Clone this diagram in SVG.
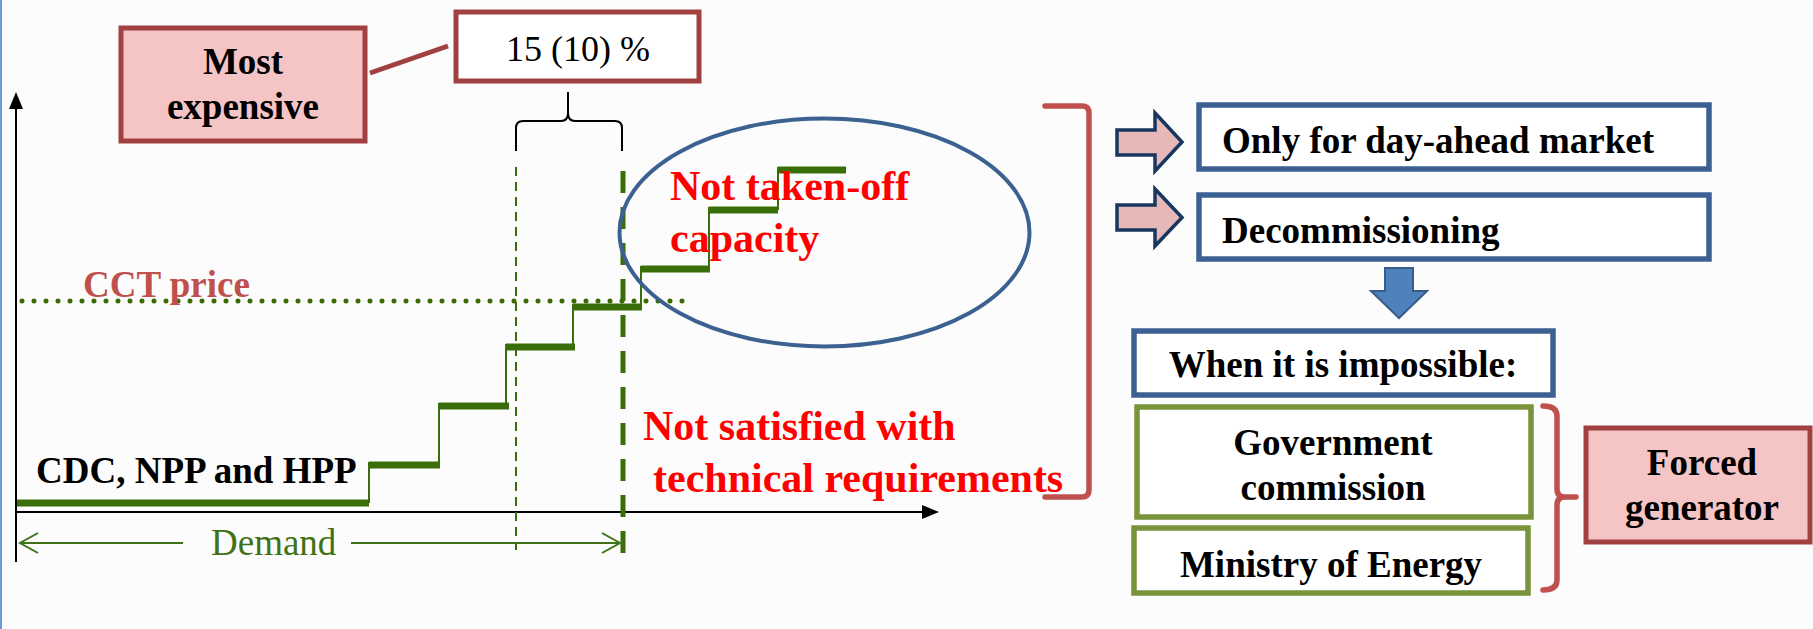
<svg xmlns="http://www.w3.org/2000/svg" width="1813" height="629" viewBox="0 0 1813 629">
<defs>
<style>
.t{font-family:"Liberation Serif","Times New Roman",serif;}
.b{font-weight:bold;font-size:37px;fill:#000;}
.red{font-weight:bold;font-size:42px;fill:#FF0000;}
.step{stroke:#3A6E0A;stroke-width:7;fill:none;}
.riser{stroke:#3A6E0A;stroke-width:2;fill:none;}
.bluebox{fill:#FFFFFF;stroke:#3C6092;stroke-width:5.5;}
.greenbox{fill:#FFFFFF;stroke:#77933C;stroke-width:5.5;}
.pinkbox{fill:#F5C5C6;stroke:#A04040;stroke-width:5;}
.pinkarrow{fill:#E6B9B8;stroke:#17375E;stroke-width:3.5;stroke-linejoin:miter;}
.bracket{fill:none;stroke:#C0504D;stroke-width:5.5;stroke-linecap:round;}
</style>
</defs>
<rect x="0" y="0" width="1813" height="629" fill="#FCFCFC"/>
<line x1="1" y1="0" x2="1" y2="629" stroke="#6A9AD8" stroke-width="2"/>

<g id="chart">
<line x1="16" y1="562" x2="16" y2="96" stroke="#000" stroke-width="2"/>
<path d="M16,92 L9,109 L23,109 z" fill="#000"/>
<line x1="16" y1="512" x2="925" y2="512" stroke="#000" stroke-width="2"/>
<path d="M939,512 L922,505 L922,519 z" fill="#000"/>
<g id="steps">
<line class="step" x1="17" y1="503" x2="369" y2="503"/>
<line class="riser" x1="369" y1="503" x2="369" y2="462"/>
<line class="step" x1="369" y1="465" x2="440" y2="465"/>
<line class="riser" x1="439" y1="465" x2="439" y2="403"/>
<line class="step" x1="439" y1="406" x2="509" y2="406"/>
<line class="riser" x1="506" y1="406" x2="506" y2="344"/>
<line class="step" x1="506" y1="347" x2="575" y2="347"/>
<line class="riser" x1="573" y1="347" x2="573" y2="304"/>
<line class="step" x1="573" y1="307" x2="642" y2="307"/>
<line class="riser" x1="641" y1="307" x2="641" y2="266"/>
<line class="step" x1="641" y1="269" x2="710" y2="269"/>
<line class="riser" x1="709" y1="269" x2="709" y2="207"/>
<line class="step" x1="709" y1="210" x2="778" y2="210"/>
<line class="riser" x1="778" y1="210" x2="778" y2="167"/>
<line class="step" x1="778" y1="170" x2="846" y2="170"/>
</g>
<line x1="22" y1="301" x2="686" y2="301" stroke="#3A6B00" stroke-width="5" stroke-linecap="round" stroke-dasharray="0 12"/>
<line x1="516" y1="167" x2="516" y2="550" stroke="#3A6E0A" stroke-width="2" stroke-dasharray="9 6"/>
<line x1="623" y1="171" x2="623" y2="562" stroke="#3A6E0A" stroke-width="5" stroke-dasharray="22 14"/>
<g id="demand" stroke="#3F7216" stroke-width="2" fill="none">
<line x1="20" y1="543" x2="183" y2="543"/>
<path d="M38,533 L20,543 L38,553"/>
<line x1="351" y1="543" x2="620" y2="543"/>
<path d="M602,533 L620,543 L602,553"/>
</g>
<text class="t" x="211" y="555" font-size="37" fill="#3F7216">Demand</text>
<text class="t" x="83" y="297" font-size="37" font-weight="bold" fill="#C0504D">CCT price</text>
<text class="t b" x="36" y="483">CDC, NPP and HPP</text>
<path d="M516,151 L516,128 Q516,121 523,121 L561,121 Q568,121 568,113 L568,92 M568,92 L568,113 Q568,121 575,121 L615,121 Q622,121 622,128 L622,151" fill="none" stroke="#000" stroke-width="2"/>
</g>

<g id="connectors">
<line x1="370" y1="73" x2="448" y2="46" stroke="#A04040" stroke-width="5"/>
<path class="bracket" d="M1045,106 L1082,106 Q1089,106 1089,113 L1089,490 Q1089,497 1082,497 L1045,497"/>
<path class="bracket" d="M1543,406 Q1557,406 1557,416 L1557,489 Q1557,497 1565,497 L1576,497 M1565,497 Q1557,497 1557,505 L1557,580 Q1557,590 1543,590"/>
<polygon class="pinkarrow" points="1117,130 1155,130 1155,113 1182,142 1155,171 1155,155 1117,155"/>
<polygon class="pinkarrow" points="1117,205 1155,205 1155,189 1182,217.5 1155,246 1155,230 1117,230"/>
<polygon points="1385,268 1413,268 1413,291 1427,291 1399,318 1371,291 1385,291" fill="#4F81BD" stroke="#385D8A" stroke-width="2"/>
</g>

<g id="most-expensive">
<rect class="pinkbox" x="121" y="28" width="244" height="113"/>
<text class="t b" x="243" y="74" text-anchor="middle">Most</text>
<text class="t b" x="243" y="119" text-anchor="middle">expensive</text>
</g>

<g id="percent">
<rect x="456" y="12" width="243" height="69" fill="#FFFFFF" stroke="#A04040" stroke-width="5"/>
<text class="t" x="578" y="61" font-size="36" text-anchor="middle" fill="#000">15 (10) %</text>
</g>

<g id="not-taken-off">
<ellipse cx="824.5" cy="232.5" rx="205" ry="114" fill="none" stroke="#3B6190" stroke-width="4"/>
<text class="t red" x="670" y="200">Not taken-off</text>
<text class="t red" x="670" y="252">capacity</text>
</g>

<g id="not-satisfied">
<text class="t red" x="643" y="440">Not satisfied with</text>
<text class="t red" x="653" y="492">technical requirements</text>
</g>

<g id="day-ahead">
<rect class="bluebox" x="1199" y="105" width="510" height="64"/>
<text class="t b" x="1222" y="153">Only for day-ahead market</text>
</g>

<g id="decommissioning">
<rect class="bluebox" x="1199" y="195" width="510" height="64"/>
<text class="t b" x="1222" y="243">Decommissioning</text>
</g>

<g id="impossible">
<rect class="bluebox" x="1134" y="331" width="419" height="64"/>
<text class="t b" x="1343" y="377" text-anchor="middle">When it is impossible:</text>
</g>

<g id="government">
<rect class="greenbox" x="1137" y="407" width="394" height="110"/>
<text class="t b" x="1333" y="455" text-anchor="middle">Government</text>
<text class="t b" x="1333" y="500" text-anchor="middle">commission</text>
</g>

<g id="ministry">
<rect class="greenbox" x="1134" y="528" width="394" height="65"/>
<text class="t b" x="1331" y="577" text-anchor="middle">Ministry of Energy</text>
</g>

<g id="forced">
<rect class="pinkbox" x="1586" y="428" width="224" height="114"/>
<text class="t b" x="1702" y="475" text-anchor="middle">Forced</text>
<text class="t b" x="1702" y="520" text-anchor="middle">generator</text>
</g>
</svg>
